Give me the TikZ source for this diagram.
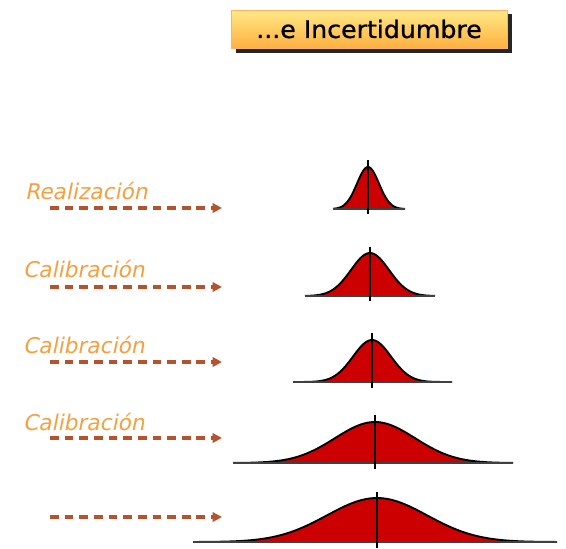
\documentclass[tikz,border=0pt]{standalone}
\usepackage{fontspec}
\newfontfamily\labelfont[FakeSlant=0.2]{DejaVu Sans}
\newfontfamily\titlefont[FakeStretch=1.05,FakeBold=0.8]{DejaVu Sans}
\usetikzlibrary{arrows.meta}
\definecolor{arrowc}{HTML}{B5532F}
\definecolor{labelc}{HTML}{F4A040}
\definecolor{bellred}{HTML}{CC0000}
\definecolor{titletop}{HTML}{FFE985}
\definecolor{titlebot}{HTML}{FDB040}
\tikzset{
  dasharrow/.style={draw=arrowc, line width=3pt, dash pattern=on 7.5pt off 5pt, -{Triangle[length=8pt,width=8pt]}},
  steplabel/.style={anchor=base west, text=labelc, font=\labelfont\fontsize{18.5}{20}\selectfont, inner sep=0pt},
  baseline line/.style={draw=black!75, line width=2pt},
  axisline/.style={draw=black, line width=1.5pt},
}
\begin{document}
\begin{tikzpicture}[x=0.03cm,y=-0.03cm]
\useasboundingbox (0,0) rectangle (566,548);
% title
\fill[black!85] (236,14) rectangle (512,53);
\node[draw=orange!60, line width=0.6pt, top color=titletop, bottom color=titlebot,
      minimum width=276*0.03cm, minimum height=38*0.03cm, inner sep=0pt,
      font=\titlefont\fontsize{20.5}{22}\selectfont] (title) at (369,29) {...e Incertidumbre};

% labels
\node[steplabel] (l1) at (25,199) {Realización};
\node[steplabel] (l2) at (23,277) {Calibración};
\node[steplabel] (l3) at (23,353) {Calibración};
\node[steplabel] (l4) at (23,430) {Calibración};

% arrows
\foreach \i/\y in {1/208,2/287,3/362,4/438,5/517}{
  \coordinate (s\i) at (50,\y);
  \coordinate (e\i) at (222,\y);
  \draw[dasharrow] (s\i) -- (e\i);
}

% bells: center, base, height, sigma, left, right, top of axis, bottom of axis
\foreach \c/\b/\h/\s/\l/\r/\t/\u in {
  368/209/42/11/333/405/160/214,
  370/296/43/19/305/435/247/301,
  372/382/42/19/293/452/333/388,
  375/463/41/40/233/513/415/469,
  377/542/44/50/193/557/492/548}{
  \fill[bellred] plot[domain=\l:\r, samples=120, smooth] (\x,{\b-\h*exp(-0.5*((\x-\c)/\s)^2)}) -- cycle;
  \draw[black, line width=1.6pt] plot[domain=\l:\r, samples=120, smooth] (\x,{\b-\h*exp(-0.5*((\x-\c)/\s)^2)});
  \draw[baseline line] (\l,\b) -- (\r,\b);
  \draw[axisline] (\c,\t) -- (\c,\u);
}
\end{tikzpicture}
\end{document}
